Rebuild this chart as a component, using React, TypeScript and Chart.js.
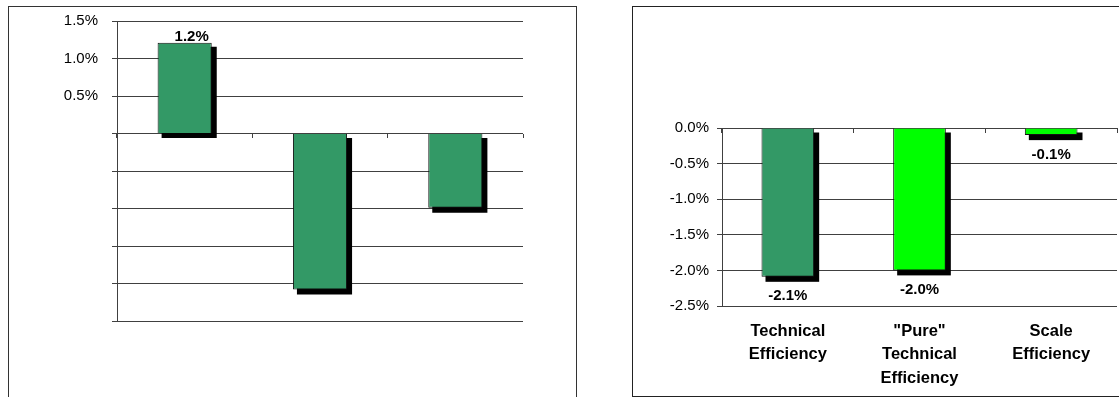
import React, { useEffect, useRef } from 'react';
import { Chart, registerables } from 'chart.js';

Chart.register(...registerables);

// ---- data ----
const leftCategories = ['', '', ''];
const leftValues = [1.21, -2.08, -0.99];
const leftColors = ['#339966', '#339966', '#339966'];

const rightCategories = [
  ['Technical', 'Efficiency'],
  ['"Pure"', 'Technical', 'Efficiency'],
  ['Scale', 'Efficiency'],
];
const rightValues = [-2.09, -2.0, -0.1];
const rightColors = ['#339966', '#00FF00', '#00FF00'];

const leftYRange = [-2.5, 1.5];
const rightYRange = [-2.5, 0];
const yStep = 0.5;

// ---- styles ----
const FONT = "'Liberation Sans', Arial, Helvetica, sans-serif";
const GRID = '#404040';

function makeShadowPlugin() {
  return {
    id: 'barShadow',
    beforeDatasetsDraw(chart: any) {
      const ctx = chart.ctx;
      ctx.save();
      ctx.fillStyle = '#000';
      chart.getDatasetMeta(0).data.forEach((el: any) => {
        const { x, y, base, width } = el.getProps(['x', 'y', 'base', 'width'], true);
        const left = x - width / 2;
        const top = Math.min(y, base);
        const h = Math.abs(base - y);
        ctx.fillRect(left + 4, top + 4, width + 1, h + 1);
      });
      ctx.restore();
    },
  };
}

function makeLabelPlugin(showNegative: boolean, dx: number) {
  return {
    id: 'valueLabels',
    afterDatasetsDraw(chart: any) {
      const ctx = chart.ctx;
      const ds = chart.data.datasets[0];
      ctx.save();
      ctx.font = `bold 15px ${FONT}`;
      ctx.fillStyle = '#000';
      ctx.textAlign = 'center';
      ctx.textBaseline = 'alphabetic';
      chart.getDatasetMeta(0).data.forEach((el: any, i: number) => {
        const v = ds.data[i] as number;
        if (v < 0 && !showNegative) return;
        const { x, y } = el.getProps(['x', 'y'], true);
        const text = v.toFixed(1) + '%';
        if (v >= 0) ctx.fillText(text, x + dx, y - 2);
        else ctx.fillText(text, x + dx, y + 23.5);
      });
      ctx.restore();
    },
  };
}

function leftConfig(): any {
  return {
    type: 'bar',
    data: {
      labels: leftCategories,
      datasets: [
        {
          data: leftValues,
          backgroundColor: leftColors,
          borderColor: '#111',
          borderWidth: 1,
          barPercentage: 0.4,
          categoryPercentage: 1,
        },
      ],
    },
    plugins: [makeShadowPlugin(), makeLabelPlugin(false, 7)],
    options: {
      animation: false,
      responsive: false,
      maintainAspectRatio: false,
      layout: { padding: { left: 9, right: 53, top: 15, bottom: 76 } },
      plugins: { legend: { display: false }, tooltip: { enabled: false } },
      scales: {
        x: {
          position: { y: 0 },
          offset: true,
          grid: { offset: true, drawOnChartArea: false, drawTicks: true, tickLength: 4, color: GRID },
          border: { display: false },
          ticks: { display: false },
        },
        y: {
          min: leftYRange[0],
          max: leftYRange[1],
          afterFit: (s: any) => {
            s.width = 100;
            s.paddingTop = 0;
            s.paddingBottom = 0;
          },
          ticks: {
            stepSize: yStep,
            padding: 14,
            color: '#000',
            font: { family: FONT, size: 15 },
            callback: (v: any) => (Number(v) > 0.001 ? Number(v).toFixed(1) + '%' : ''),
          },
          grid: { color: GRID, tickLength: 5, drawTicks: true },
          border: { display: true, color: GRID },
        },
      },
    },
  };
}

function rightConfig(): any {
  return {
    type: 'bar',
    data: {
      labels: rightCategories,
      datasets: [
        {
          data: rightValues,
          backgroundColor: rightColors,
          borderColor: '#111',
          borderWidth: 1,
          barPercentage: 0.4,
          categoryPercentage: 1,
        },
      ],
    },
    plugins: [makeShadowPlugin(), makeLabelPlugin(true, 0)],
    options: {
      animation: false,
      responsive: false,
      maintainAspectRatio: false,
      layout: { padding: { left: 10, right: 35, top: 122, bottom: 2 } },
      plugins: { legend: { display: false }, tooltip: { enabled: false } },
      scales: {
        x: {
          position: 'bottom',
          afterFit: (s: any) => {
            s.height = 88;
          },
          grid: { display: false, drawTicks: false },
          border: { display: false },
          ticks: {
            padding: 14,
            maxRotation: 0,
            minRotation: 0,
            autoSkip: false,
            color: '#000',
            font: { family: FONT, size: 16.5, weight: 'bold', lineHeight: 1.41 },
          },
        },
        x2: {
          type: 'category',
          position: { y: 0 },
          offset: true,
          grid: { offset: true, drawOnChartArea: false, drawTicks: true, tickLength: 5, color: GRID },
          border: { display: false },
          ticks: { display: false },
        },
        y: {
          min: rightYRange[0],
          max: rightYRange[1],
          afterFit: (s: any) => {
            s.width = 80;
          },
          ticks: {
            stepSize: yStep,
            padding: 8,
            color: '#000',
            font: { family: FONT, size: 15 },
            callback: (v: any) => (Math.abs(Number(v)) < 0.001 ? 0 : Number(v)).toFixed(1) + '%',
          },
          grid: { color: GRID, tickLength: 5, drawTicks: true },
          border: { display: true, color: GRID },
        },
      },
    },
  };
}

export default function App() {
  const leftRef = useRef<HTMLCanvasElement>(null);
  const rightRef = useRef<HTMLCanvasElement>(null);

  useEffect(() => {
    const c1 = new Chart(leftRef.current as HTMLCanvasElement, leftConfig());
    const c2 = new Chart(rightRef.current as HTMLCanvasElement, rightConfig());
    return () => {
      c1.destroy();
      c2.destroy();
    };
  }, []);

  return (
    <div
      style={{
        position: 'fixed',
        left: 0,
        top: 0,
        width: 1119,
        height: 397,
        overflow: 'hidden',
        background: '#fff',
      }}
    >
      <div
        style={{
          position: 'absolute',
          left: 8,
          top: 6,
          width: 569,
          height: 500,
          border: '1px solid #333',
          boxSizing: 'border-box',
        }}
      />
      <canvas
        ref={leftRef}
        width={568}
        height={391}
        style={{ position: 'absolute', left: 8, top: 6, width: 568, height: 391 }}
      />
      <div
        style={{
          position: 'absolute',
          left: 632,
          top: 6,
          width: 600,
          height: 391,
          border: '1px solid #222',
          boxSizing: 'border-box',
        }}
      />
      <canvas
        ref={rightRef}
        width={520}
        height={390}
        style={{ position: 'absolute', left: 632, top: 6, width: 520, height: 390 }}
      />
    </div>
  );
}
